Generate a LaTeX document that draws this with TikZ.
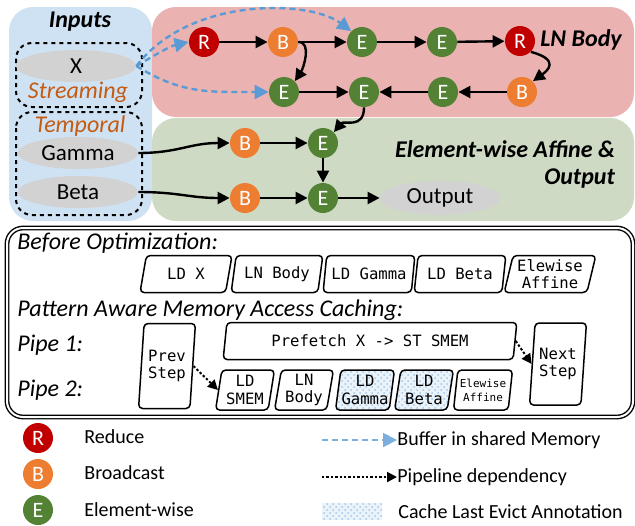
\documentclass[tikz,border=0pt]{standalone}
\usepackage{fontspec}
\setmainfont{Carlito}
\setmonofont{DejaVu Sans Mono}
\usetikzlibrary{arrows.meta,positioning,calc,patterns,shapes.geometric}

\definecolor{redop}{RGB}{192,0,0}
\definecolor{orangeop}{RGB}{237,125,49}
\definecolor{greenop}{RGB}{84,130,53}
\definecolor{inbg}{RGB}{207,226,243}
\definecolor{lnbg}{RGB}{234,179,178}
\definecolor{affbg}{RGB}{206,218,196}
\definecolor{tensorgray}{RGB}{210,210,210}
\definecolor{tagorange}{RGB}{197,90,17}
\definecolor{smemblue}{RGB}{91,155,213}

\begin{document}
\begin{tikzpicture}[x=0.5pt,y=-0.5pt,
  op/.style={circle, minimum size=15pt, inner sep=0pt, text=white, font=\fontsize{11}{11}\selectfont},
  reduce/.style={op, fill=redop},
  bcast/.style={op, fill=orangeop},
  ewise/.style={op, fill=greenop},
  tensor/.style={ellipse, fill=tensorgray, inner sep=0pt, minimum width=60pt, minimum height=16pt, font=\fontsize{11.5}{12}\selectfont},
  region/.style={rounded corners=12pt},
  tag/.style={font=\itshape\fontsize{12}{12}\selectfont, text=tagorange},
  title/.style={font=\bfseries\itshape\fontsize{12}{13.5}\selectfont},
  rowlabel/.style={font=\itshape\fontsize{12}{12}\selectfont, anchor=west, inner sep=0pt},
  flow/.style={-{Triangle[length=6pt,width=6pt]}, line width=1.2pt},
  smem/.style={-{Triangle[length=7pt,width=7pt]}, dash pattern=on 3pt off 2pt, line width=1.2pt, smemblue},
  pipedep/.style={-{Triangle[length=5pt,width=5pt]}, dash pattern=on 1.2pt off 1pt, line width=1pt},
  stage/.style={trapezium, trapezium left angle=75, trapezium right angle=105, trapezium stretches=true,
    draw, line width=0.75pt, rounded corners=2pt, inner sep=0pt, align=center,
    font=\ttfamily\fontsize{7.8}{8.8}\selectfont},
  tallstage/.style={stage, trapezium left angle=82, trapezium right angle=98},
  cache/.style={preaction={fill=smemblue!12}, pattern=crosshatch dots, pattern color=smemblue!55},
  legend/.style={anchor=west, inner sep=0pt, font=\fontsize{10}{11}\selectfont},
]
\useasboundingbox (0,0) rectangle (635,525);

% ─── Regions ───
\fill[inbg, region] (9,7) rectangle (152,221);
\fill[lnbg, region] (152,7) rectangle (634,117);
\fill[affbg, region] (152,118) rectangle (634,221);

% ─── Inputs ───
\node[title] (intitle) at (80,22) {Inputs};
\draw[dash pattern=on 2pt off 2pt, line width=1pt, rounded corners=8pt] (16,43) rectangle (142,107);
\draw[dash pattern=on 2pt off 2pt, line width=1pt, rounded corners=8pt] (16,112) rectangle (142,215);
\node[tensor] (x) at (76,66) {X};
\node[tag] (streaming) at (78,92) {Streaming};
\node[tag] (temporal) at (80,126) {Temporal};
\node[tensor] (gamma) at (78,153) {Gamma};
\node[tensor] (beta) at (78,192) {Beta};

% ─── LN body ───
\node[title] (lntitle) at (581,40) {LN Body};
\node[reduce] (r1) at (204,42) {R};
\node[bcast] (b1) at (283,42) {B};
\node[ewise] (e1) at (362,42) {E};
\node[ewise] (e2) at (442,42) {E};
\node[reduce] (r2) at (520,41) {R};
\node[ewise] (e3) at (284,92) {E};
\node[ewise] (e4) at (364,92) {E};
\node[ewise] (e5) at (443,92) {E};
\node[bcast] (b2) at (522,92) {B};

\draw[flow] (r1) -- (b1);
\draw[flow] (b1) -- (e1);
\draw[flow] (e1) -- (e2);
\draw[flow] (e2) -- (r2);
\draw[flow] (b1.east) .. controls +(14,0) and +(8,-12) .. (e3.north east);
\draw[flow] (e3) -- (e4);
\draw[flow] (r2.south east) .. controls +(30,8) and +(14,-10) .. (b2.north east);
\draw[flow] (b2) -- (e5);
\draw[flow] (e5) -- (e4);

% ─── Element-wise affine & output ───
\node[title, align=right, anchor=east] (afftitle) at (622,164) {Element-wise Affine \&\\Output};
\node[bcast] (b3) at (245,143) {B};
\node[ewise] (e6) at (323,143) {E};
\node[bcast] (b4) at (245,198) {B};
\node[ewise] (e7) at (323,198) {E};
\node[tensor, minimum height=17pt] (out) at (440,198) {Output};

\draw[flow] (e4.south) .. controls +(0,22) and +(10,-12) .. (e6.north east);
\draw[flow] (gamma.east) .. controls +(40,0) and +(-40,0) .. (b3.west);
\draw[flow] (b3) -- (e6);
\draw[flow] (e6) -- (e7);
\draw[flow] (beta.east) .. controls +(40,0) and +(-40,0) .. (b4.west);
\draw[flow] (b4) -- (e7);
\draw[flow] (e7) -- (out);

% shared memory buffers
\draw[smem] (x.east) .. controls +(20,-12) and +(-18,4) .. (r1.west);
\draw[smem] (x.east) .. controls +(45,28) and +(-60,0) .. (e3.west);
\draw[smem] (x.east) .. controls (190,-4) and (310,0) .. (e1.north west);

% ─── Schedules ───
\draw[line width=0.7pt, double, double distance=1pt, rounded corners=8pt] (7,228) rectangle (633,417);
\node[rowlabel] (before) at (17,243) {Before Optimization:};
\node[stage, minimum width=46pt, minimum height=18.5pt] (ldx) at (186,274) {LD X};
\node[stage, minimum width=46pt, minimum height=18.5pt] (lnbody) at (277,274) {LN Body};
\node[stage, minimum width=46pt, minimum height=18.5pt] (ldgamma) at (369,274) {LD Gamma};
\node[stage, minimum width=46pt, minimum height=18.5pt] (ldbeta) at (460,274) {LD Beta};
\node[stage, minimum width=46pt, minimum height=18.5pt] (affine) at (550,274) {Elewise\\Affine};

\node[rowlabel] (caching) at (17,310) {Pattern Aware Memory Access Caching:};
\node[rowlabel] (pipe1) at (17,345) {Pipe 1:};
\node[rowlabel] (pipe2) at (17,390) {Pipe 2:};

\node[tallstage, minimum width=28.5pt, minimum height=42.5pt] (prev) at (167,366) {Prev\\Step};
\node[stage, trapezium left angle=78, trapezium right angle=102, minimum width=147pt, minimum height=18.5pt] (prefetch) at (370,341) {Prefetch X -> ST SMEM};
\node[stage, trapezium left angle=80, trapezium right angle=100, minimum width=29.5pt, minimum height=20pt] (ldsmem) at (245,390) {LD\\SMEM};
\node[stage, trapezium left angle=80, trapezium right angle=100, minimum width=29.5pt, minimum height=20pt] (lnbody2) at (304,390) {LN\\Body};
\node[stage, cache, trapezium left angle=80, trapezium right angle=100, minimum width=29.5pt, minimum height=20pt] (ldgamma2) at (365,390) {LD\\Gamma};
\node[stage, cache, trapezium left angle=80, trapezium right angle=100, minimum width=29.5pt, minimum height=20pt] (ldbeta2) at (424,390) {LD\\Beta};
\node[stage, trapezium left angle=80, trapezium right angle=100, minimum width=29.5pt, minimum height=20pt, font=\ttfamily\fontsize{5.5}{7}\selectfont] (affine2) at (483,390) {Elewise\\Affine};
\node[tallstage, minimum width=28.5pt, minimum height=41pt] (next) at (558,364) {Next\\Step};

\draw[pipedep] (prev.east) -- (ldsmem.west);
\draw[pipedep] (prefetch.east) -- (next.west);

% ─── Legend ───
\node[reduce] (lr) at (38,438) {R};
\node[legend] (lrtext) at (84,437) {Reduce};
\node[bcast] (lb) at (38,474) {B};
\node[legend] (lbtext) at (84,473) {Broadcast};
\node[ewise] (le) at (38,510) {E};
\node[legend] (letext) at (84,510) {Element-wise};

\coordinate (smemfrom) at (322,440);
\node[legend] (smemtext) at (397,440) {Buffer in shared Memory};
\draw[smem, line width=1pt, smemblue!80] (smemfrom) -- (smemtext.west);
\coordinate (depfrom) at (322,477);
\node[legend] (deptext) at (397,477) {Pipeline dependency};
\draw[pipedep] (depfrom) -- (deptext.west);
\node[cache, minimum width=30pt, minimum height=8.5pt, inner sep=0pt] (cachekey) at (352,511) {};
\node[legend] (cachetext) at (398,512) {Cache Last Evict Annotation};
\end{tikzpicture}
\end{document}
